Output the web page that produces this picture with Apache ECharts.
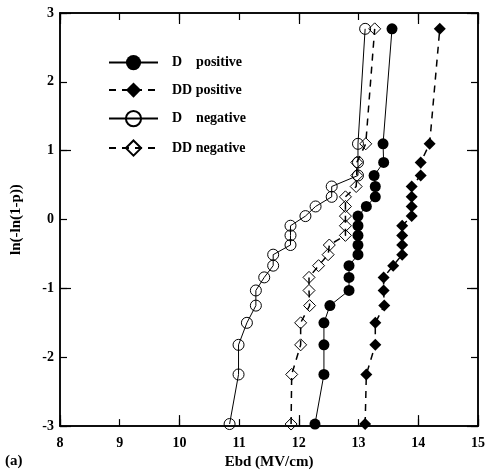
<!DOCTYPE html>
<html>
<head>
<meta charset="utf-8">
<script src="https://cdn.jsdelivr.net/npm/echarts@6/dist/echarts.min.js"></script>
<style>
  html, body { margin: 0; padding: 0; background: #fff; }
  #chart { width: 488px; height: 475px; }
</style>
</head>
<body>
<div id="chart"></div>
<script>
// ln(-ln(1-p)) rank positions, shared by all four samples
const lnRank = [-2.97, -2.25, -1.82, -1.50, -1.25, -1.03, -0.84, -0.67, -0.51, -0.37,
  -0.23, -0.09, 0.05, 0.19, 0.33, 0.48, 0.64, 0.83, 1.10, 2.77];

// Ebd (MV/cm) for each rank
const dPos = [12.27, 12.42, 12.42, 12.42, 12.52, 12.84, 12.84, 12.84, 12.99, 12.99,
  12.99, 12.99, 12.99, 13.13, 13.28, 13.28, 13.26, 13.42, 13.41, 13.56];
const ddPos = [13.11, 13.13, 13.28, 13.28, 13.43, 13.42, 13.42, 13.58, 13.73, 13.73,
  13.73, 13.73, 13.89, 13.89, 13.89, 13.89, 14.04, 14.04, 14.19, 14.36];
const dNeg = [10.84, 10.99, 10.99, 11.13, 11.28, 11.28, 11.42, 11.57, 11.57, 11.86,
  11.86, 11.86, 12.11, 12.28, 12.55, 12.55, 12.99, 12.99, 12.99, 13.11];
const ddNeg = [11.87, 11.88, 12.03, 12.03, 12.18, 12.17, 12.17, 12.33, 12.49, 12.51,
  12.78, 12.78, 12.78, 12.78, 12.78, 12.96, 12.97, 12.97, 13.12, 13.27];

const seriesNames = ['D    positive', 'DD positive', 'D    negative', 'DD negative'];

const font = 'Liberation Serif';
const pairs = xs => xs.map((x, i) => [x, lnRank[i]]);

// 坐标轴（四边都有刻度，偶数刻度长一些）
function xAx(pos, len, step, labels) {
  return {
    type: 'value', position: pos, min: 8, max: 15, interval: step,
    axisLine: { show: true, onZero: false, lineStyle: { color: '#000', width: 1.5 } },
    axisTick: { show: true, inside: true, length: len, lineStyle: { color: '#000', width: 1.2 } },
    axisLabel: { show: labels, color: '#000', fontFamily: font, fontWeight: 'bold', fontSize: 14, margin: 10 },
    splitLine: { show: false },
    name: labels ? 'Ebd (MV/cm)' : '',
    nameLocation: 'middle', nameGap: 25,
    nameTextStyle: { color: '#000', fontFamily: font, fontWeight: 'bold', fontSize: 15 }
  };
}
function yAx(pos, len, step, labels) {
  return {
    type: 'value', position: pos, min: -3, max: 3, interval: step,
    axisLine: { show: true, onZero: false, lineStyle: { color: '#000', width: 1.5 } },
    axisTick: { show: true, inside: true, length: len, lineStyle: { color: '#000', width: 1.2 } },
    axisLabel: { show: labels, color: '#000', fontFamily: font, fontWeight: 'bold', fontSize: 14, margin: 6 },
    splitLine: { show: false },
    name: labels ? 'ln(-ln(1-p))' : '',
    nameLocation: 'middle', nameGap: 36,
    nameTextStyle: { color: '#000', fontFamily: font, fontWeight: 'bold', fontSize: 15 }
  };
}

function mkSeries(name, xs, symbol, filled, dashed, size) {
  return {
    name, type: 'line', data: pairs(xs), xAxisIndex: 0, yAxisIndex: 0,
    symbol, symbolSize: size, clip: false,
    itemStyle: filled
      ? { color: '#000' }
      : { color: 'rgba(255,255,255,0)', borderColor: '#000', borderWidth: 1 },
    lineStyle: { color: '#000', width: dashed ? 1.5 : 1, type: dashed ? [7, 6] : 'solid' },
    emphasis: { disabled: true },
    z: 3
  };
}

const chart = echarts.init(document.getElementById('chart'), null, { renderer: 'canvas' });
chart.setOption({
  backgroundColor: '#fff',
  animation: false,
  grid: { left: 60, right: 8, top: 13, bottom: 41 },
  xAxis: [
    xAx('bottom', 7, 1, true), xAx('bottom', 11, 2, false),
    xAx('top', 7, 1, false), xAx('top', 11, 2, false)
  ],
  yAxis: [
    yAx('left', 7, 1, true), yAx('left', 11, 2, false),
    yAx('right', 7, 1, false), yAx('right', 11, 2, false)
  ],
  legend: {
    orient: 'vertical', left: 103, top: 50, itemWidth: 49, itemHeight: 19, itemGap: 12.3,
    data: seriesNames,
    textStyle: { color: '#000', fontFamily: font, fontWeight: 'bold', fontSize: 14, padding: [0, 0, 0, 9] }
  },
  series: [
    mkSeries(seriesNames[0], dPos, 'circle', true, false, 11),
    mkSeries(seriesNames[1], ddPos, 'diamond', true, true, 12),
    mkSeries(seriesNames[2], dNeg, 'circle', false, false, 11),
    mkSeries(seriesNames[3], ddNeg, 'diamond', false, true, 12)
  ],
  graphic: [{
    type: 'text', left: 5, top: 454,
    style: { text: '(a)', fill: '#000', font: 'bold 15px "Liberation Serif"' }
  }]
});
</script>
</body>
</html>
